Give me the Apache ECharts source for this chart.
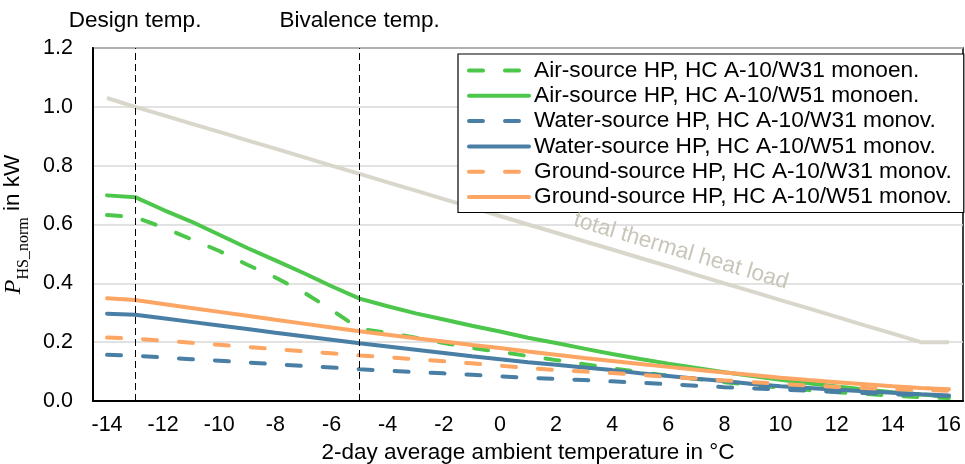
<!DOCTYPE html>
<html>
<head>
<meta charset="utf-8">
<script src="https://cdn.jsdelivr.net/npm/echarts@6/dist/echarts.min.js"></script>
<style>html,body{margin:0;padding:0;background:#fff;}#c{width:965px;height:464px;}</style>
</head>
<body>
<div id="c"></div>
<script>
const temps = ['-14','-13','-12','-11','-10','-9','-8','-7','-6','-5','-4','-3','-2','-1','0','1','2','3','4','5','6','7','8','9','10','11','12','13','14','15','16'];
const totalLoad = [1.03,1.0,0.972,0.943,0.915,0.886,0.858,0.829,0.8,0.772,0.743,0.715,0.686,0.658,0.629,0.6,0.572,0.543,0.515,0.486,0.458,0.429,0.4,0.372,0.343,0.315,0.286,0.257,0.229,0.2,0.2];
const airW31 = [0.632,0.625,0.59,0.55,0.51,0.463,0.42,0.37,0.31,0.245,0.232,0.215,0.197,0.18,0.167,0.153,0.139,0.125,0.111,0.098,0.086,0.075,0.064,0.054,0.045,0.037,0.03,0.024,0.018,0.013,0.01];
const airW51 = [0.699,0.693,0.65,0.61,0.565,0.52,0.478,0.435,0.39,0.348,0.322,0.298,0.277,0.256,0.236,0.215,0.197,0.178,0.16,0.143,0.127,0.112,0.098,0.085,0.072,0.06,0.049,0.039,0.03,0.022,0.015];
const waterW31 = [0.157,0.154,0.148,0.142,0.137,0.131,0.125,0.119,0.114,0.108,0.103,0.098,0.094,0.089,0.084,0.079,0.075,0.071,0.067,0.062,0.057,0.052,0.047,0.043,0.039,0.035,0.031,0.027,0.023,0.02,0.017];
const waterW51 = [0.297,0.293,0.281,0.269,0.257,0.245,0.232,0.22,0.208,0.196,0.185,0.174,0.163,0.152,0.142,0.132,0.123,0.114,0.105,0.094,0.085,0.076,0.068,0.058,0.05,0.044,0.038,0.033,0.028,0.023,0.019];
const groundW31 = [0.216,0.212,0.205,0.198,0.191,0.184,0.176,0.169,0.162,0.155,0.149,0.142,0.135,0.128,0.12,0.112,0.105,0.1,0.095,0.089,0.082,0.076,0.07,0.064,0.058,0.053,0.048,0.044,0.04,0.037,0.035];
const groundW51 = [0.349,0.343,0.33,0.316,0.303,0.29,0.276,0.263,0.25,0.237,0.225,0.213,0.202,0.19,0.18,0.168,0.157,0.146,0.136,0.126,0.116,0.106,0.097,0.088,0.079,0.071,0.064,0.057,0.05,0.044,0.04];
const yTicks = [0, 0.2, 0.4, 0.6, 0.8, 1.0, 1.2];
const seriesNames = [
  'Air-source HP, HC A-10/W31 monoen.',
  'Air-source HP, HC A-10/W51 monoen.',
  'Water-source HP, HC A-10/W31 monov.',
  'Water-source HP, HC A-10/W51 monov.',
  'Ground-source HP, HC A-10/W31 monov.',
  'Ground-source HP, HC A-10/W51 monov.'
];
const markTemps = ['-13', '-5'];
const markTexts = ['Design temp.', 'Bivalence temp.'];

const GREEN = '#4cc64b', BLUE = '#4a7fa5', ORANGE = '#fda563', GREY = '#d9d6cb';
const FONT = 'Liberation Sans, Arial, sans-serif';
const DASH = [14, 22];

function mk(name, data, color, dashed) {
  return {
    name: name, type: 'line', data: data, symbol: 'none', smooth: false,
    lineStyle: { color: color, width: 4, type: dashed ? DASH : 'solid', cap: 'round' },
    itemStyle: { color: color },
    emphasis: { disabled: true }
  };
}

const chart = echarts.init(document.getElementById('c'), null, { renderer: 'canvas' });
const option = {
  animation: false,
  backgroundColor: '#fff',
  textStyle: { fontFamily: FONT },
  grid: { left: 93, right: 2, top: 48, bottom: 63, show: true, borderColor: '#000', borderWidth: 1.5, containLabel: false, outerBoundsMode: 'none' },
  legend: {
    data: seriesNames,
    orient: 'vertical',
    left: 458, top: 54,
    itemWidth: 60, itemHeight: 14, itemGap: 2.3,
    padding: [5, 12, 4, 9],
    borderColor: '#000', borderWidth: 1.2,
    backgroundColor: '#fff',
    itemStyle: { opacity: 0 },
    lineStyle: { width: 4 },
    textStyle: { fontFamily: FONT, fontSize: 22.7, color: '#000', lineHeight: 22 },
    selectedMode: false
  },
  xAxis: {
    type: 'category', data: temps, boundaryGap: true,
    name: '2-day average ambient temperature in °C', nameLocation: 'middle', nameGap: 39,
    nameTextStyle: { fontFamily: FONT, fontSize: 22.5, color: '#000' },
    axisLine: { lineStyle: { color: '#000', width: 2 } },
    axisTick: { show: false },
    axisLabel: { interval: 1, fontFamily: FONT, fontSize: 21.5, color: '#000', margin: 13 },
    splitLine: { show: false }
  },
  yAxis: {
    type: 'value', min: 0, max: 1.2, interval: 0.2,
    name: '{p|P}{s|HS_norm}{k| in kW}', nameLocation: 'middle', nameGap: 64, nameRotate: 90,
    nameTextStyle: {
      rich: {
        p: { fontFamily: 'Liberation Serif, Times New Roman, serif', fontStyle: 'italic', fontSize: 24, color: '#000', verticalAlign: 'middle', lineHeight: 26 },
        s: { fontFamily: 'Liberation Serif, Times New Roman, serif', fontSize: 16, color: '#000', verticalAlign: 'bottom', lineHeight: 26, padding: [0, 0, -6, 0] },
        k: { fontFamily: FONT, fontSize: 22.5, color: '#000', verticalAlign: 'middle', lineHeight: 26 }
      }
    },
    axisLine: { show: true, lineStyle: { color: '#000', width: 2 } },
    axisTick: { show: false },
    axisLabel: { fontFamily: FONT, fontSize: 21.5, color: '#000', margin: 20, formatter: v => v.toFixed(1) },
    splitLine: { show: true, lineStyle: { color: '#d9d9d9', width: 1.5 } }
  },
  series: [
    {
      name: 'total thermal heat load', type: 'line', data: totalLoad, symbol: 'none',
      lineStyle: { color: GREY, width: 4 }, itemStyle: { color: GREY }, z: 1,
      emphasis: { disabled: true },
      markLine: {
        silent: true, symbol: 'none',
        lineStyle: { color: '#000', width: 1, type: [7, 4] },
        label: { show: true, position: 'end', distance: 16, fontFamily: FONT, fontSize: 22.5, color: '#000', formatter: p => markTexts[p.dataIndex] },
        data: markTemps.map(t => ({ xAxis: t }))
      },
      markPoint: {
        silent: true, symbol: 'circle', symbolSize: 0,
        data: [{ coord: ['6', 0.458], value: 0 }],
        label: { show: true, formatter: 'total thermal heat load', rotate: -16.5, offset: [8, -18], fontFamily: FONT, fontSize: 22.5, color: '#c9c5b8' }
      }
    },
    mk(seriesNames[0], airW31, GREEN, true),
    mk(seriesNames[1], airW51, GREEN, false),
    mk(seriesNames[2], waterW31, BLUE, true),
    mk(seriesNames[3], waterW51, BLUE, false),
    mk(seriesNames[4], groundW31, ORANGE, true),
    mk(seriesNames[5], groundW51, ORANGE, false)
  ]
};
chart.setOption(option);
</script>
</body>
</html>
